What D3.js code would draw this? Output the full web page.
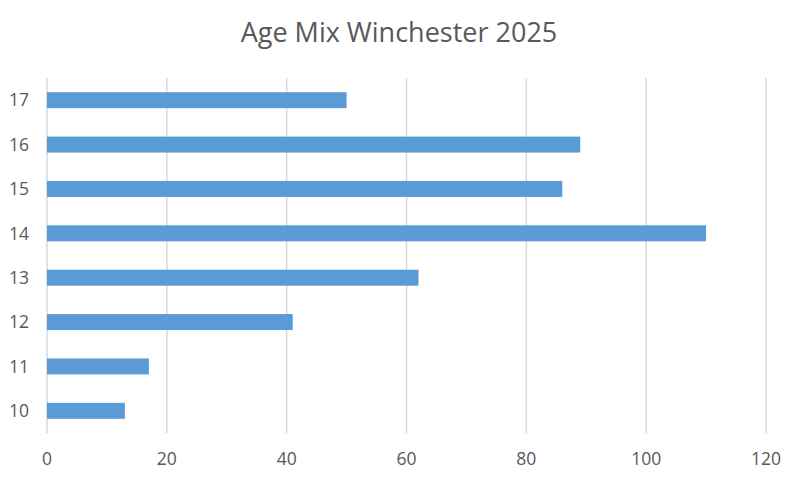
<!DOCTYPE html>
<html>
<head>
<meta charset="utf-8">
<script src="https://cdn.jsdelivr.net/npm/d3@7"></script>
<style>
  body { margin: 0; background: #fff; }
  svg { font-family: "Open Sans", sans-serif; }
</style>
</head>
<body>
<script>
// data
const AGES = ["10", "11", "12", "13", "14", "15", "16", "17"];
const COUNTS = [13, 17, 41, 62, 110, 86, 89, 50];
const X_TICKS = [0, 20, 40, 60, 80, 100, 120];

const width = 800;
const height = 480;
const margin = { top: 78, right: 34, bottom: 47, left: 47 };

// scales
const x = d3.scaleLinear()
  .domain([0, 120])
  .range([margin.left, width - margin.right]);

const y = d3.scaleBand()
  .domain(AGES.slice().reverse())
  .range([margin.top, height - margin.bottom])
  .paddingInner(0.64)
  .paddingOuter(0.32);

const svg = d3.select("body").append("svg")
  .attr("width", width)
  .attr("height", height);

// title
svg.append("text")
  .attr("x", 399)
  .attr("y", 42)
  .attr("text-anchor", "middle")
  .attr("fill", "#595959")
  .attr("font-size", "27px")
  .text("Age Mix Winchester 2025");

// gridlines
svg.append("g")
  .selectAll("line")
  .data(X_TICKS)
  .enter()
    .append("line")
    .attr("x1", d => x(d))
    .attr("x2", d => x(d))
    .attr("y1", margin.top)
    .attr("y2", height - margin.bottom)
    .attr("stroke", "#d9d9d9")
    .attr("stroke-width", 1.5);

// bars
svg.append("g")
  .selectAll("rect")
  .data(AGES)
  .enter()
    .append("rect")
    .attr("x", x(0))
    .attr("y", d => y(d))
    .attr("height", y.bandwidth())
    .attr("width", (d, i) => x(COUNTS[i]) - x(0))
    .attr("fill", "#5b9bd5");

// x axis labels
svg.append("g")
  .selectAll("text")
  .data(X_TICKS)
  .enter()
    .append("text")
    .attr("x", d => x(d))
    .attr("y", 465)
    .attr("text-anchor", "middle")
    .attr("fill", "#595959")
    .attr("font-size", "17.5px")
    .text(d => d);

// y axis labels
svg.append("g")
  .selectAll("text")
  .data(AGES)
  .enter()
    .append("text")
    .attr("x", 29)
    .attr("y", d => y(d) + y.bandwidth() / 2)
    .attr("dy", "0.36em")
    .attr("text-anchor", "end")
    .attr("fill", "#595959")
    .attr("font-size", "17.5px")
    .text(d => d);
</script>
</body>
</html>
